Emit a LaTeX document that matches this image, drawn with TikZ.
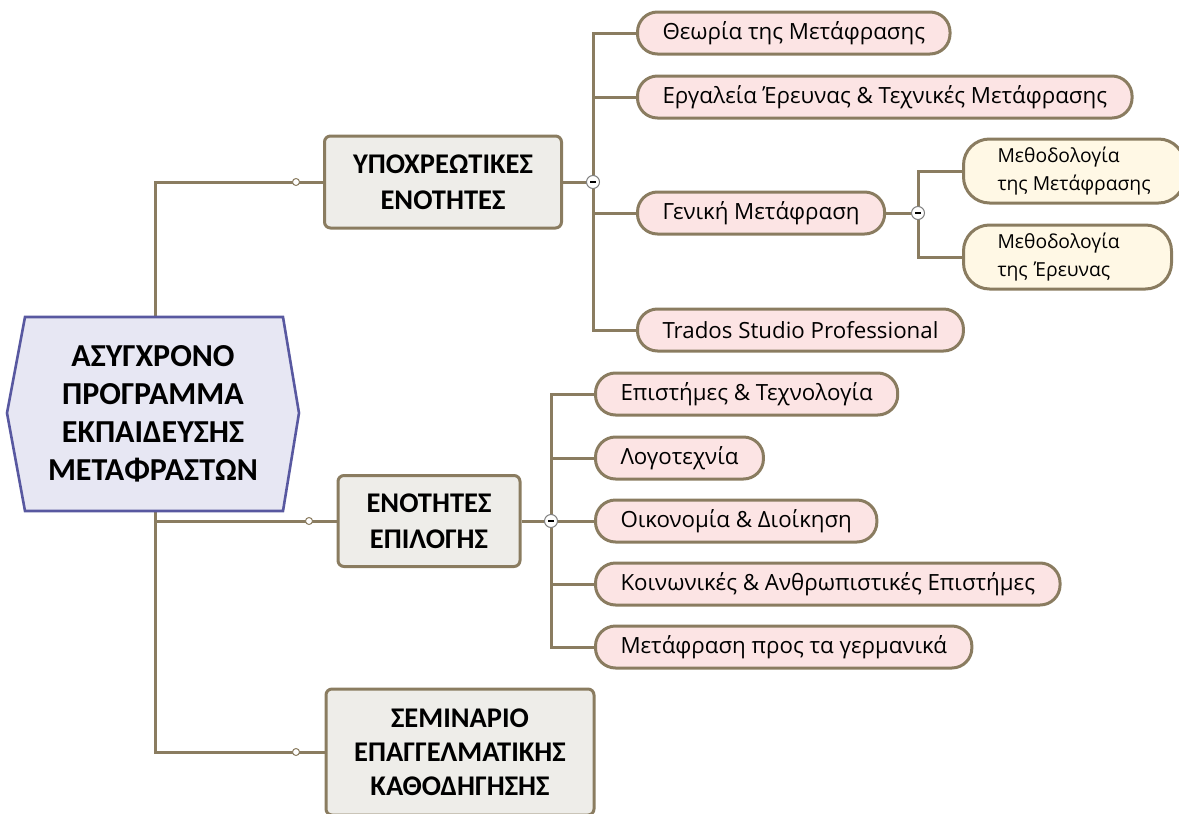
\documentclass[tikz,border=0pt]{standalone}
\usepackage{fontspec}
\setmainfont{Carlito}
\newfontfamily\leaffont{Open Sans}

\definecolor{linecol}{RGB}{138,124,96}
\definecolor{boxgrey}{RGB}{238,237,233}
\definecolor{leafpink}{RGB}{252,228,228}
\definecolor{leafyellow}{RGB}{255,248,229}
\definecolor{rootfill}{RGB}{231,231,243}
\definecolor{rootline}{RGB}{88,88,160}

\begin{document}
\begin{tikzpicture}[x=1pt,y=-1pt,
    conn/.style={draw=linecol,line width=3pt},
    mainbox/.style={draw=linecol,line width=3pt,fill=boxgrey,rounded corners=6pt,
        align=center,inner sep=0pt,font=\bfseries\fontsize{28.5}{36}\selectfont},
    leaf/.style={draw=linecol,line width=3pt,fill=leafpink,rounded corners=20pt,
        anchor=west,minimum height=42pt,inner xsep=25pt,inner ysep=0pt,
        font=\leaffont\fontsize{22.3}{26}\selectfont},
    subleaf/.style={leaf,fill=leafyellow,minimum height=64pt,inner xsep=34pt,
        rounded corners=26pt,align=left,font=\leaffont\fontsize{19.3}{28}\selectfont},
    dot/.style={circle,draw=linecol,fill=white,line width=1pt,inner sep=0pt,minimum size=7pt},
    fold/.style={circle,draw=gray,fill=white,line width=1pt,inner sep=0pt,minimum size=13pt}]
\clip (0,0) rectangle (1179,814);

% first level
\node[mainbox,minimum width=237pt,minimum height=92pt] (req) at (443,182) {ΥΠΟΧΡΕΩΤΙΚΕΣ\\ΕΝΟΤΗΤΕΣ};
\node[mainbox,minimum width=182pt,minimum height=91pt] (opt) at (429,521) {ΕΝΟΤΗΤΕΣ\\ΕΠΙΛΟΓΗΣ};
\node[mainbox,minimum width=268pt,minimum height=126pt,
      font=\bfseries\fontsize{28.5}{34}\selectfont] (sem) at (460,752) {ΣΕΜΙΝΑΡΙΟ\\ΕΠΑΓΓΕΛΜΑΤΙΚΗΣ\\ΚΑΘΟΔΗΓΗΣΗΣ};

% compulsory units
\node[leaf] (l1) at (636,33) {Θεωρία της Μετάφρασης};
\node[leaf] (l2) at (636,97) {Εργαλεία Έρευνας \& Τεχνικές Μετάφρασης};
\node[leaf] (l3) at (636,213) {Γενική Μετάφραση};
\node[leaf] (l4) at (636,330) {Trados Studio Professional};
\node[subleaf] (s1) at (962,171) {Μεθοδολογία\\της Μετάφρασης};
\node[subleaf,text width=140pt] (s2) at (962,257) {Μεθοδολογία\\της Έρευνας};

% optional units
\node[leaf] (e1) at (594,394) {Επιστήμες \& Τεχνολογία};
\node[leaf] (e2) at (594,458) {Λογοτεχνία};
\node[leaf] (e3) at (594,521) {Οικονομία \& Διοίκηση};
\node[leaf] (e4) at (594,584) {Κοινωνικές \& Ανθρωπιστικές Επιστήμες};
\node[leaf] (e5) at (594,647) {Μετάφραση προς τα γερμανικά};

\coordinate (trunk) at (155,414);
\coordinate (p1) at (296,182);
\coordinate (p2) at (309,521);
\coordinate (p3) at (296,752);
\coordinate (f1) at (593,182);
\coordinate (f2) at (918,213);
\coordinate (f3) at (551,521);

% connectors
\draw[conn] (req.west) -- (req.west -| trunk) -- (sem.west -| trunk) -- (sem.west);
\draw[conn] (opt.west -| trunk) -- (opt.west);
\draw[conn] (req.east) -- (f1);
\draw[conn] (l1.west) -- (l1.west -| f1) -- (l4.west -| f1) -- (l4.west);
\draw[conn] (l2.west -| f1) -- (l2.west);
\draw[conn] (l3.west -| f1) -- (l3.west);
\draw[conn] (l3.east) -- (f2);
\draw[conn] (s1.west) -- (s1.west -| f2) -- (s2.west -| f2) -- (s2.west);
\draw[conn] (opt.east) -- (f3);
\draw[conn] (e1.west) -- (e1.west -| f3) -- (e5.west -| f3) -- (e5.west);
\foreach \n in {e2,e3,e4}
    \draw[conn] (\n.west -| f3) -- (\n.west);

% root
\draw[draw=rootline,fill=rootfill,line width=2.6pt]
    (7,413) -- (25,317) -- (283,317) -- (299,413) -- (283,511) -- (25,511) -- cycle;
\node[align=center,font=\bfseries\fontsize{32}{38}\selectfont] (root) at (153,414)
    {ΑΣΥΓΧΡΟΝΟ\\ΠΡΟΓΡΑΜΜΑ\\ΕΚΠΑΙΔΕΥΣΗΣ\\ΜΕΤΑΦΡΑΣΤΩΝ};

% small circles
\node[dot] (dot1) at (p1) {};
\node[dot] (dot2) at (p2) {};
\node[dot] (dot3) at (p3) {};
\foreach \f in {f1,f2,f3}
    \node[fold] (fold-\f) at (\f) {\rule[-0.8pt]{6pt}{1.6pt}};
\end{tikzpicture}
\end{document}
